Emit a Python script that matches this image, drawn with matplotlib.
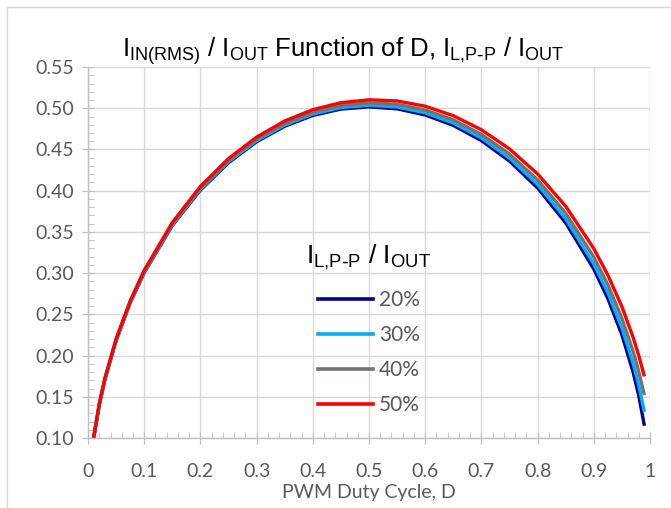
import matplotlib

matplotlib.use("Agg")
import matplotlib.pyplot as plt
from matplotlib.lines import Line2D
from matplotlib.ticker import MultipleLocator, FormatStrFormatter, FuncFormatter

plt.rcParams["font.family"] = ["Lato", "DejaVu Sans"]
plt.rcParams["mathtext.default"] = "regular"

# duty cycle samples and I_IN(RMS)/I_OUT
duty = [0.01, 0.02, 0.03, 0.05, 0.075, 0.10, 0.15, 0.20, 0.25, 0.30, 0.35, 0.40, 0.45,
        0.50, 0.55, 0.60, 0.65, 0.70, 0.75, 0.80, 0.85, 0.90, 0.925, 0.95, 0.97, 0.98, 0.99]
ripple_20 = [0.0997, 0.1402, 0.1709, 0.2183, 0.2639, 0.3006, 0.3578, 0.4008, 0.4340, 0.4594,
             0.4782, 0.4913, 0.4990, 0.5017, 0.4993, 0.4919, 0.4792, 0.4608, 0.4359, 0.4033,
             0.3610, 0.3050, 0.2692, 0.2251, 0.1798, 0.1512, 0.1149]
ripple_30 = [0.0999, 0.1405, 0.1713, 0.2188, 0.2645, 0.3013, 0.3586, 0.4019, 0.4352, 0.4607,
             0.4797, 0.4930, 0.5009, 0.5037, 0.5016, 0.4945, 0.4821, 0.4640, 0.4395, 0.4074,
             0.3659, 0.3111, 0.2763, 0.2337, 0.1907, 0.1642, 0.1316]
ripple_40 = [0.1002, 0.1410, 0.1718, 0.2195, 0.2653, 0.3022, 0.3599, 0.4033, 0.4368, 0.4626,
             0.4818, 0.4953, 0.5035, 0.5066, 0.5048, 0.4980, 0.4860, 0.4683, 0.4444, 0.4131,
             0.3726, 0.3194, 0.2859, 0.2453, 0.2050, 0.1807, 0.1520]
ripple_50 = [0.1005, 0.1415, 0.1724, 0.2203, 0.2663, 0.3035, 0.3614, 0.4052, 0.4390, 0.4650,
             0.4846, 0.4983, 0.5068, 0.5103, 0.5089, 0.5025, 0.4910, 0.4739, 0.4507, 0.4203,
             0.3811, 0.3298, 0.2977, 0.2594, 0.2221, 0.2000, 0.1747]
series_labels = ["20%", "30%", "40%", "50%"]
series_colors = ["#000090", "#00B0F0", "#767171", "#FF0000"]

NARROW = ["Liberation Sans Narrow", "Liberation Sans", "DejaVu Sans"]

fig = plt.figure(figsize=(6.71, 5.08), dpi=100, facecolor="white")
ax = fig.add_axes([0.1312, 0.1378, 0.8375, 0.7302])

for ys, lab, col in zip([ripple_20, ripple_30, ripple_40, ripple_50], series_labels, series_colors):
    ax.plot(duty, ys, color=col, lw=2.4, label=lab, solid_capstyle="butt", zorder=3)

ax.set_xlim(0, 1)
ax.set_ylim(0.10, 0.55)
ax.xaxis.set_major_locator(MultipleLocator(0.1))
ax.xaxis.set_minor_locator(MultipleLocator(0.02))
ax.yaxis.set_major_locator(MultipleLocator(0.05))
ax.yaxis.set_minor_locator(MultipleLocator(0.01))
ax.yaxis.set_major_formatter(FormatStrFormatter("%.2f"))
ax.xaxis.set_major_formatter(FuncFormatter(lambda v, p: f"{v:.1f}".rstrip("0").rstrip(".")))
ax.grid(True, which="major", color="#D9D9D9", lw=1.0)
ax.set_axisbelow(True)
for s in ["top", "right"]:
    ax.spines[s].set_visible(False)
for s in ["left", "bottom"]:
    ax.spines[s].set_color("#BFBFBF")
    ax.spines[s].set_linewidth(1.0)
ax.tick_params(which="major", direction="inout", length=8, color="#BFBFBF",
               labelsize=14, labelcolor="#595959")
ax.tick_params(axis="x", which="major", pad=14)
ax.tick_params(axis="y", which="major", pad=6)
ax.tick_params(which="minor", direction="in", length=4, color="#BFBFBF")

ax.set_xlabel("PWM Duty Cycle, D", fontsize=14, color="#595959", labelpad=3)
ax.set_title(r"I$_{IN(RMS)}$ / I$_{OUT}$ Function of D, I$_{L{,}P\text{-}P}$ / I$_{OUT}$",
             fontsize=18.5, family=NARROW, pad=7, x=0.455)

handles = [Line2D([], [], color=c, lw=2.6) for c in series_colors]
leg = ax.legend(handles, series_labels, title=r"I$_{L{,}P\text{-}P}$ / I$_{OUT}$",
                loc="center", bbox_to_anchor=(0.50, 0.295), frameon=False,
                fontsize=15, title_fontsize=19, handlelength=2.6, handletextpad=0.3,
                labelspacing=0.72, labelcolor="#595959")
leg.get_title().set_family(NARROW)
leg._legend_box.sep = 13

# outer chart frame
fig.add_artist(Line2D([7 / 671, 1], [1 - 7 / 508, 1 - 7 / 508], color="#D9D9D9", lw=1.0))
fig.add_artist(Line2D([7 / 671, 7 / 671], [0, 1 - 7 / 508], color="#D9D9D9", lw=1.0))

fig.savefig("out.png", dpi=100, facecolor="white")
